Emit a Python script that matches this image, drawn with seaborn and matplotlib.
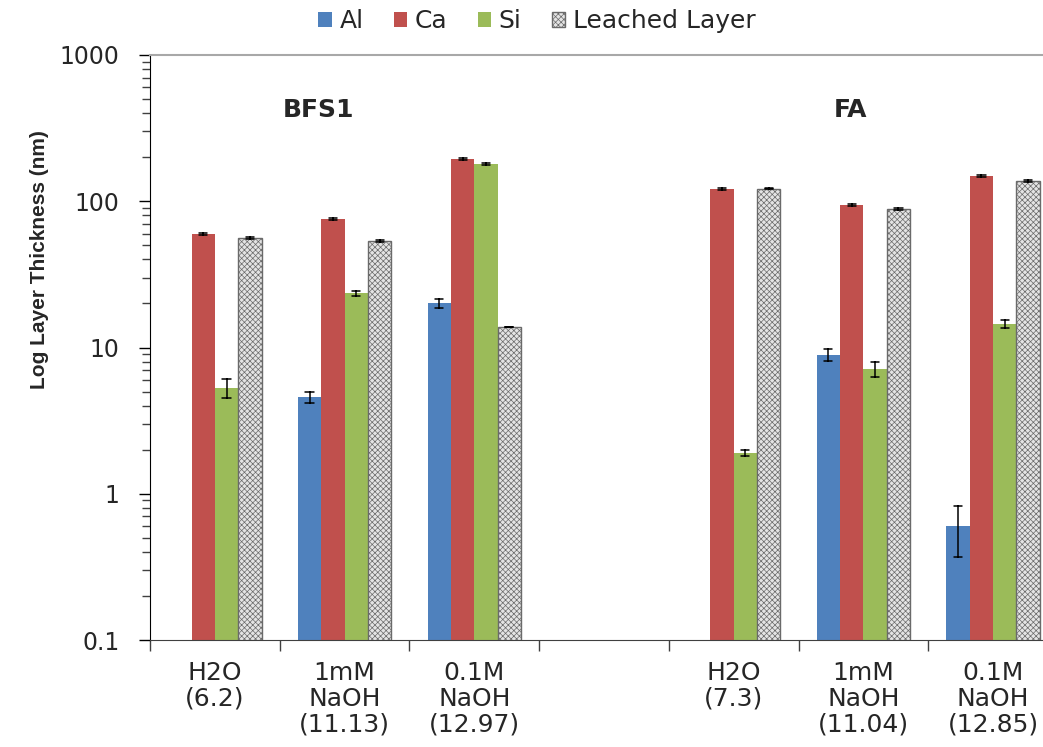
import numpy as np
import pandas as pd
import matplotlib
matplotlib.use("Agg")
import matplotlib.pyplot as plt
from matplotlib.ticker import FixedLocator, NullFormatter, LogLocator
import seaborn as sns

# ---------------- data ----------------
conditions = ["H2O\n(6.2)", "1mM\nNaOH\n(11.13)", "0.1M\nNaOH\n(12.97)", " ",
              "H2O\n(7.3)", "1mM\nNaOH\n(11.04)", "0.1M\nNaOH\n(12.85)"]
elements = ["Al", "Ca", "Si", "Leached Layer"]

al = [np.nan, 4.6, 20.1, np.nan, np.nan, 8.9, 0.6]
al_err = [np.nan, 0.4, 1.4, np.nan, np.nan, 0.8, 0.23]
ca = [60, 76, 195, np.nan, 122, 94, 149]
ca_err = [1.0, 1.2, 3.0, np.nan, 2.0, 1.5, 2.5]
si = [5.3, 23.5, 180, np.nan, 1.9, 7.1, 14.5]
si_err = [0.8, 1.0, 4.0, np.nan, 0.1, 0.8, 1.0]
leached = [56, 53.5, 13.8, np.nan, 122, 88.5, 137.5]
leached_err = [1.0, 1.0, 0.0, np.nan, 1.5, 1.0, 1.5]

group_labels = ["BFS1", "FA"]
colors = ["#4F81BD", "#C0504D", "#9BBB59", "#E4E4E4"]

# long-form table: each bar is given by its lower and upper error limits,
# so that the mean is the value and the 100% interval is the error bar
rows = []
for name, vals, errs in zip(elements, [al, ca, si, leached],
                            [al_err, ca_err, si_err, leached_err]):
    for c, v, e in zip(conditions, vals, errs):
        if np.isnan(v):
            continue
        rows.append({"cond": c, "element": name, "thickness": v - e})
        rows.append({"cond": c, "element": name, "thickness": v + e})
df = pd.DataFrame(rows)

# ---------------- figure ----------------
sns.set_style("white")
plt.rcParams["font.family"] = ["DejaVu Sans"]
plt.rcParams["hatch.linewidth"] = 0.5

fig = plt.figure(figsize=(10.43, 7.47), dpi=100)
ax = fig.add_axes([150 / 1043, 1 - 640 / 747, 908 / 1043, 585 / 747])

sns.barplot(data=df, x="cond", y="thickness", hue="element",
            order=conditions, hue_order=elements,
            palette=colors, saturation=1, width=0.72,
            estimator="mean", errorbar=("pi", 100), capsize=0.25,
            err_kws={"color": "black", "linewidth": 1.1},
            legend=False, ax=ax)

ax.set_yscale("log")
ax.set_ylim(0.1, 1000)
ax.set_xlim(-0.5, len(conditions) - 0.5)

# solid bars without outline
for cont in ax.containers[:3]:
    for p in cont:
        p.set_linewidth(0)
# hatch for leached layer
for p in ax.containers[3]:
    p.set_hatch("xxxxxx")
    p.set_edgecolor("#6a6a6a")
    p.set_linewidth(1.0)

# axes styling
ax.spines["left"].set_color("black")
ax.spines["bottom"].set_color("#404040")
ax.spines["top"].set_color("#a8a8a8")
ax.spines["top"].set_linewidth(1.5)
ax.spines["right"].set_visible(False)

ax.yaxis.set_major_locator(FixedLocator([0.1, 1, 10, 100, 1000]))
ax.set_yticklabels(["0.1", "1", "10", "100", "1000"])
ax.yaxis.set_minor_locator(LogLocator(base=10, subs=np.arange(2, 10)))
ax.yaxis.set_minor_formatter(NullFormatter())
ax.tick_params(axis="y", which="major", direction="out", length=8, width=1,
               color="black", labelsize=17, pad=14, left=True)
ax.tick_params(axis="y", which="minor", direction="out", length=6, width=1,
               color="#404040", left=True)

ax.set_xticks(range(len(conditions)))
ax.set_xticklabels(conditions, fontsize=18, linespacing=1.1)
ax.xaxis.set_minor_locator(FixedLocator(np.arange(-0.5, len(conditions), 1.0)))
ax.tick_params(axis="x", which="major", length=0, pad=15)
ax.tick_params(axis="x", which="minor", direction="out", length=8, width=1,
               color="#404040", bottom=True)
ax.set_xlabel("")

ax.set_ylabel("Log Layer Thickness (nm)", fontsize=15, fontweight="bold",
              family=["Liberation Sans Narrow", "Liberation Sans", "DejaVu Sans"])
ax.yaxis.label.set_va("center")
ax.yaxis.set_label_coords(-0.122, 0.651)

# group titles
ax.text(0.186, 0.906, group_labels[0], transform=ax.transAxes,
        ha="center", va="center", fontsize=18, fontweight="bold")
ax.text(0.772, 0.906, group_labels[1], transform=ax.transAxes,
        ha="center", va="center", fontsize=18, fontweight="bold")

# legend
fig.legend(handles=list(ax.containers[:4]), labels=elements,
           loc="center", bbox_to_anchor=(537 / 1043, 1 - 21 / 747),
           ncol=4, frameon=False, fontsize=18, handlelength=0.55,
           handleheight=0.55, handletextpad=0.3, columnspacing=1.2)

fig.savefig("out.png", dpi=100)
